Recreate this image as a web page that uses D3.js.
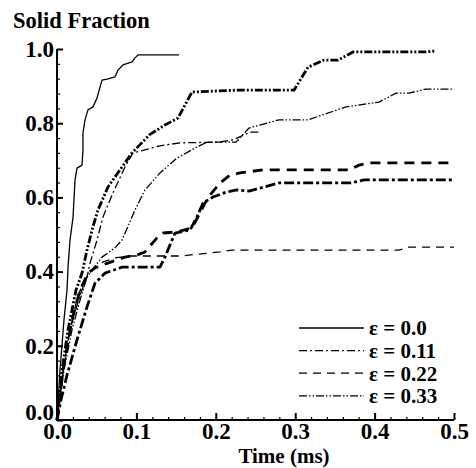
<!DOCTYPE html>
<html lang="en">
<head>
  <meta charset="UTF-8">
  <title>Solid Fraction</title>
  <style type="text/css">
    body { margin: 0; background: #fff; }
    svg { display: block; }
    text { font-family: "Liberation Serif", "Times New Roman", serif; font-weight: bold; fill: #000; }
  </style>
  <script src="https://d3js.org/d3.v7.min.js"></script>
</head>
<body>
  <svg></svg>
  <script>
    const W = 476, H = 468;

    // time (ms), solid fraction
    const eps00 = [[0,0],[0.0038,0.135],[0.0088,0.27],[0.0126,0.35],[0.0139,0.412],[0.0164,0.485],[0.0202,0.547],
      [0.0227,0.647],[0.0252,0.679],[0.0315,0.687],[0.0327,0.728],[0.0327,0.774],[0.0353,0.809],[0.039,0.836],
      [0.0453,0.844],[0.0504,0.868],[0.0542,0.898],[0.0567,0.916],[0.063,0.919],[0.073,0.925],[0.0768,0.943],
      [0.0831,0.957],[0.0945,0.965],[0.0982,0.976],[0.102,0.984],[0.1537,0.984]];
    const eps011 = [[0,0],[0.0076,0.135],[0.0164,0.243],[0.029,0.337],[0.0378,0.385],[0.0416,0.423],[0.0504,0.485],
      [0.0579,0.547],[0.0705,0.612],[0.0856,0.682],[0.0957,0.72],[0.1297,0.739],[0.1549,0.747],[0.2028,0.749],
      [0.2217,0.755],[0.2431,0.776],[0.2569,0.776]];
    const eps022 = [[0,0],[0.0063,0.108],[0.0164,0.243],[0.0264,0.337],[0.039,0.391],[0.0542,0.423],[0.073,0.437],
      [0.0919,0.442],[0.1549,0.442],[0.2053,0.453],[0.2204,0.458],[0.4307,0.458],[0.4433,0.466],[0.5,0.466]];
    const eps033 = [[0,0],[0.0088,0.135],[0.0189,0.243],[0.029,0.323],[0.0378,0.385],[0.0441,0.404],[0.0567,0.439],
      [0.073,0.464],[0.0819,0.485],[0.0982,0.566],[0.1108,0.62],[0.1297,0.666],[0.1511,0.706],[0.1763,0.736],
      [0.1889,0.749],[0.2254,0.749],[0.2418,0.787],[0.2796,0.809],[0.3161,0.809],[0.364,0.844],[0.4055,0.857],
      [0.427,0.881],[0.4433,0.881],[0.4647,0.892],[0.5,0.892]];
    // thick curves (no legend entry)
    const thickA = [[0,0],[0.0063,0.135],[0.0139,0.243],[0.0239,0.35],[0.0315,0.396],[0.0378,0.458],[0.0441,0.512],
      [0.0516,0.566],[0.0642,0.628],[0.0819,0.682],[0.0945,0.72],[0.1171,0.77],[0.1360,0.795],[0.1524,0.814],
      [0.17,0.884],[0.2254,0.889],[0.2985,0.889],[0.3161,0.951],[0.3363,0.97],[0.3539,0.97],[0.3728,0.992],
      [0.4647,0.992],[0.4773,0.995]];
    const thickB = [[0,0],[0.0076,0.135],[0.0189,0.27],[0.029,0.35],[0.039,0.396],[0.0479,0.41],[0.0642,0.423],
      [0.0856,0.439],[0.1008,0.445],[0.1108,0.453],[0.1259,0.491],[0.1335,0.504],[0.1511,0.507],[0.17,0.518],
      [0.1801,0.558],[0.1864,0.585],[0.1927,0.606],[0.2053,0.639],[0.2179,0.66],[0.2305,0.666],[0.2594,0.674],
      [0.3678,0.674],[0.3804,0.687],[0.3929,0.693],[0.5,0.693]];
    const thickC = [[0,0],[0.005,0.054],[0.0126,0.121],[0.0252,0.216],[0.0378,0.305],[0.0479,0.369],[0.0605,0.396],
      [0.0819,0.412],[0.1297,0.412],[0.136,0.439],[0.1423,0.472],[0.1486,0.504],[0.1675,0.512],[0.1763,0.547],
      [0.1839,0.585],[0.1965,0.601],[0.2141,0.615],[0.2267,0.62],[0.2418,0.617],[0.2796,0.639],[0.3703,0.639],
      [0.3866,0.647],[0.5,0.647]];

    const legendLabels = ["\u03b5 = 0.0", "\u03b5 = 0.11", "\u03b5 = 0.22", "\u03b5 = 0.33"];
    const xTicks = [0, 0.1, 0.2, 0.3, 0.4, 0.5];
    const yTicks = [0, 0.2, 0.4, 0.6, 0.8, 1.0];

    const svg = d3.select("svg").attr("width", W).attr("height", H);

    const x = d3.scaleLinear().domain([0, 0.5]).range([57, 454]);
    const y = d3.scaleLinear().domain([0, 1]).range([420, 49]);

    // minor ticks
    svg.append("g").attr("transform", "translate(0,420)")
      .call(d3.axisBottom(x).tickValues(d3.range(0, 0.5001, 0.02)).tickSize(-3).tickFormat(""))
      .call(g => g.select(".domain").remove())
      .call(g => g.selectAll("line").attr("stroke-width", 1.2));
    svg.append("g").attr("transform", "translate(57,0)")
      .call(d3.axisLeft(y).tickValues(d3.range(0, 1.0001, 0.04)).tickSize(-3).tickFormat(""))
      .call(g => g.select(".domain").remove())
      .call(g => g.selectAll("line").attr("stroke-width", 1.2));

    // major axes
    const xAxis = svg.append("g").attr("transform", "translate(0,420)")
      .call(d3.axisBottom(x).tickValues(xTicks).tickSize(-7).tickPadding(3).tickFormat(d3.format(".1f")));
    const yAxis = svg.append("g").attr("transform", "translate(57,0)")
      .call(d3.axisLeft(y).tickValues(yTicks).tickSize(-6).tickPadding(3).tickFormat(d3.format(".1f")));

    [xAxis, yAxis].forEach(g => {
      g.select(".domain").attr("stroke-width", 2).attr("d", null);
      g.selectAll("line").attr("stroke-width", 2);
      g.selectAll("text").attr("font-size", 23).attr("font-family", "Liberation Serif").attr("font-weight", "bold");
    });
    xAxis.select(".domain").attr("d", `M${x(0)},0H${x(0.5)}`);
    yAxis.select(".domain").attr("d", `M0,${y(1)}V${y(0) + 1}`);
    yAxis.selectAll(".tick text").filter(d => d === 0).attr("dy", "-0.02em");
    xAxis.selectAll(".tick text").attr("dy", "0.68em");

    // titles
    svg.append("text").attr("x", 13).attr("y", 28).attr("font-size", 22.5).text("Solid Fraction");
    svg.append("text").attr("x", 284).attr("y", 463).attr("font-size", 21)
      .attr("text-anchor", "middle").text("Time (ms)");

    const line = d3.line().x(d => x(d[0])).y(d => y(d[1]));

    const series = [
      { data: thickA, w: 2.8, dash: "8,2,2,2,2,2" },
      { data: thickB, w: 2.8, dash: "10,7" },
      { data: thickC, w: 2.8, dash: "10,3,3,3" },
      { data: eps00, w: 1.3, dash: null },
      { data: eps011, w: 1.3, dash: "8,3,2,3" },
      { data: eps022, w: 1.3, dash: "8,6" },
      { data: eps033, w: 1.3, dash: "8,2,1.5,2,1.5,2" }
    ];

    svg.append("g").selectAll("path").data(series).join("path")
      .attr("d", d => line(d.data))
      .attr("fill", "none")
      .attr("stroke", "#000")
      .attr("stroke-width", d => d.w)
      .attr("stroke-dasharray", d => d.dash)
      .attr("stroke-linejoin", "round");

    // legend
    const legendStyles = series.slice(3);
    const lg = svg.append("g");
    legendLabels.forEach((lab, i) => {
      const yy = 328 + i * 22.6;
      lg.append("line").attr("x1", 299).attr("x2", 364).attr("y1", yy).attr("y2", yy)
        .attr("stroke", "#000").attr("stroke-width", 1.3)
        .attr("stroke-dasharray", legendStyles[i].dash);
      lg.append("text").attr("x", 369).attr("y", yy).attr("dy", "0.35em")
        .attr("font-size", 21).text(lab);
    });
  </script>
</body>
</html>
